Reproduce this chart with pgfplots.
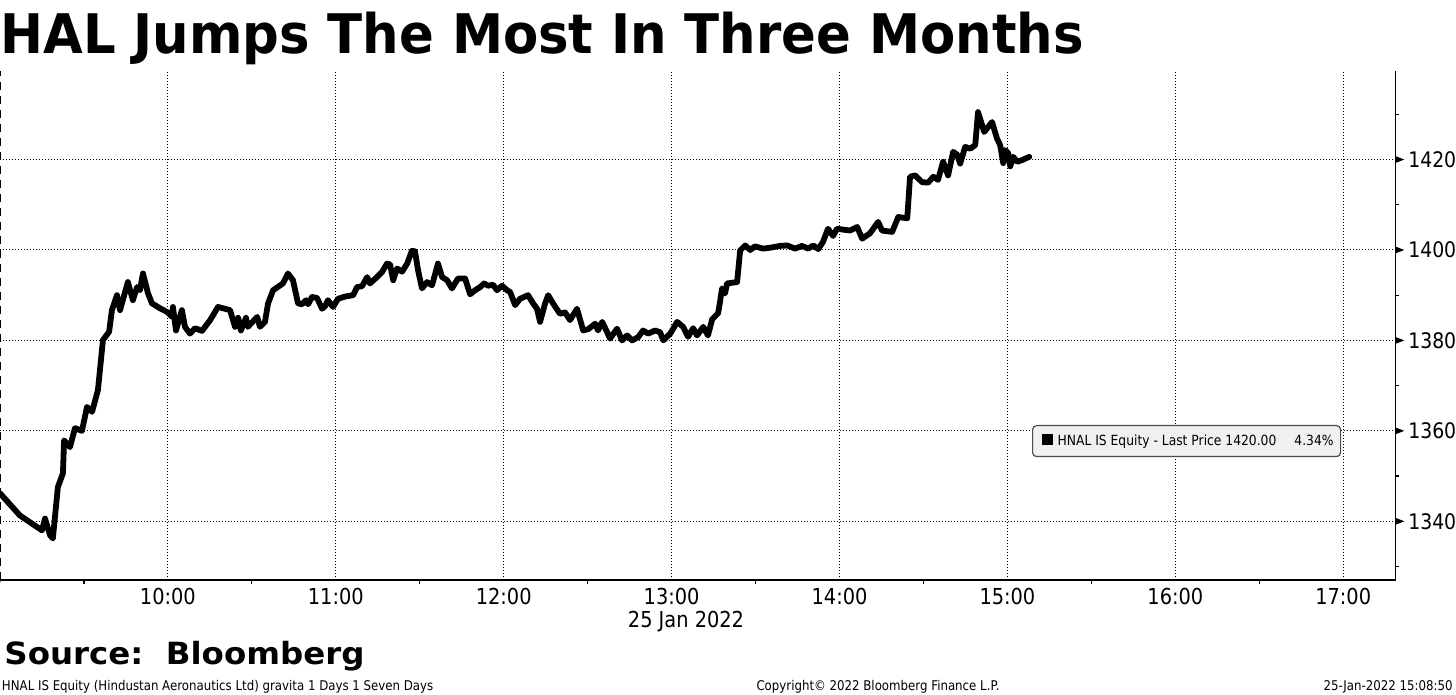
\documentclass[border=0pt]{standalone}
\usepackage{fontspec}
\setmainfont{DejaVu Sans}[FakeStretch=0.88]
\newfontfamily\headfont{DejaVu Sans}[FakeStretch=0.94]
\newfontfamily\srcfont{DejaVu Sans}[FakeStretch=1.06]
\usepackage{pgfplots}
\pgfplotsset{compat=1.18}

\begin{document}
\begin{tikzpicture}
\path[use as bounding box] (0,0) rectangle (728pt,347.5pt);
\begin{axis}[
  at={(0pt,57.5pt)}, anchor=south west, scale only axis,
  width=697.65pt, height=254.35pt,
  xmin=540, xmax=1038.6, ymin=1327, ymax=1439.5,
  axis line style={draw=none},
  clip mode=individual,
  xtick={600,660,...,1020},
  xticklabels={10:00,11:00,12:00,13:00,14:00,15:00,16:00,17:00},
  minor xtick={570,630,...,990},
  ytick={1340,1360,...,1420},
  minor ytick={1330,1350,...,1430},
  xtick pos=bottom, ytick pos=right, yticklabel pos=right,
  tick align=outside, major tick length=0pt, minor tick length=2pt,
  minor tick style={black, line width=0.6pt},
  grid=major,
  major grid style={black, line width=0.5pt, dash pattern=on 0.5pt off 1pt},
  xticklabel style={font=\fontsize{11}{12}\selectfont, anchor=north, inner sep=0pt, yshift=-4pt},
  yticklabel style={font=\fontsize{10.7}{12}\selectfont, anchor=west, inner sep=0pt, xshift=6.3pt},
  /pgf/number format/assume math mode=true,
  /pgf/number format/set thousands separator={},
]
\addplot[black, line width=2.9pt, line join=round, line cap=round] coordinates {
(540.0,1346.2) (547.1,1341.3) (555.0,1338.0) (556.1,1340.6) (557.9,1336.9)
(558.9,1336.2) (560.7,1347.6) (562.5,1350.6) (562.9,1357.9) (565.0,1356.4)
(566.8,1360.6) (569.3,1360.0) (571.1,1365.3) (572.9,1364.2) (575.0,1369.0)
(576.8,1380.1) (579.0,1381.9) (580.0,1386.7) (581.8,1390.0) (582.9,1386.7)
(585.7,1392.9) (587.5,1388.9) (589.0,1391.8) (590.0,1391.1) (591.1,1394.8)
(592.9,1390.4) (594.3,1388.2) (597.2,1387.1) (599.7,1386.3) (601.5,1385.2)
(601.8,1387.4) (602.9,1382.2) (605.0,1386.7) (606.1,1383.0) (607.9,1381.5)
(609.7,1382.7) (612.2,1382.1) (615.1,1384.5) (617.9,1387.4) (622.2,1386.7)
(624.0,1383.0) (625.1,1385.0) (626.1,1382.2) (627.9,1385.0) (628.6,1383.0)
(631.9,1385.2) (632.9,1383.0) (634.7,1384.1) (635.8,1388.2) (637.6,1391.1)
(641.1,1392.6) (642.9,1394.8) (644.7,1393.3) (646.5,1388.2) (647.9,1388.0)
(649.4,1388.9) (650.1,1388.0) (651.5,1389.6) (653.3,1389.4) (655.1,1387.0)
(656.2,1387.6) (657.2,1388.9) (659.0,1387.4) (660.8,1389.2) (663.3,1389.7)
(666.2,1390.0) (667.6,1391.8) (669.4,1392.0) (671.2,1394.0) (672.2,1392.6)
(674.7,1394.0) (676.5,1395.1) (678.3,1397.0) (679.4,1396.8) (680.5,1393.3)
(681.9,1395.9) (683.7,1395.2) (685.5,1397.0) (687.2,1399.8) (688.3,1399.7)
(689.4,1395.5) (690.8,1391.5) (692.6,1392.9) (694.4,1392.2) (696.5,1397.0)
(698.0,1394.0) (699.8,1393.3) (701.5,1391.5) (703.7,1393.7) (706.2,1393.7)
(708.0,1390.2) (709.8,1391.1) (711.6,1391.8) (713.0,1392.6) (714.4,1392.1)
(716.2,1392.3) (717.6,1391.1) (719.4,1392.1) (721.2,1391.1) (722.3,1390.7)
(724.1,1387.8) (725.8,1389.2) (728.7,1390.0) (730.5,1388.2) (731.9,1387.0)
(733.0,1384.1) (734.8,1388.2) (735.9,1390.0) (737.6,1388.2) (740.1,1385.9)
(741.9,1386.2) (743.7,1384.5) (746.2,1387.0) (748.4,1382.2) (750.2,1382.5)
(752.7,1383.7) (753.7,1382.2) (755.2,1384.1) (756.9,1381.9) (758.0,1380.4)
(760.5,1382.6) (762.3,1380.0) (764.1,1381.1) (765.9,1380.0) (768.0,1380.7)
(769.8,1382.2) (771.6,1381.5) (774.1,1382.2) (775.9,1381.8) (777.0,1380.0)
(779.5,1381.5) (782.0,1384.1) (784.1,1383.0) (785.9,1380.8) (787.7,1382.7)
(789.1,1381.1) (791.3,1383.0) (793.0,1381.1) (794.5,1384.7) (796.6,1386.0)
(797.3,1388.5) (798.0,1391.5) (799.1,1390.4) (799.8,1392.6) (803.4,1392.9)
(804.5,1399.9) (806.3,1401.0) (808.1,1400.0) (809.8,1400.8) (812.7,1400.3)
(815.2,1400.5) (818.8,1400.9) (821.3,1401.0) (824.1,1400.3) (826.6,1400.9)
(828.8,1400.3) (830.6,1401.0) (832.4,1400.2) (834.1,1401.8) (835.9,1404.7)
(837.7,1403.1) (839.1,1404.7) (841.3,1404.5) (843.8,1404.3) (846.3,1405.1)
(848.1,1402.5) (850.9,1403.7) (853.8,1406.2) (855.2,1404.3) (858.8,1404.0)
(861.0,1407.3) (864.2,1407.0) (865.2,1416.2) (867.0,1416.5) (869.5,1415.0)
(871.7,1414.9) (873.5,1416.2) (875.2,1415.5) (877.0,1419.5) (878.8,1416.5)
(880.6,1421.7) (882.0,1421.1) (883.1,1419.1) (884.9,1422.8) (886.7,1422.4)
(888.5,1423.2) (889.5,1430.5) (891.7,1426.1) (894.5,1428.3) (896.3,1424.6)
(897.4,1423.2) (898.5,1419.2) (899.2,1422.1) (900.3,1421.4) (901.0,1418.5)
(902.1,1420.6) (903.5,1419.5) (905.3,1419.9) (907.8,1420.6)
};
% axis frame: solid bottom and right, dashed left
\draw[black, line width=0.75pt] (rel axis cs:0,0) -- (rel axis cs:1,0) -- (rel axis cs:1,1);
\draw[black, line width=0.75pt, dash pattern=on 4pt off 3pt] (rel axis cs:0,0) -- (rel axis cs:0,1);
\draw[black, line width=0.75pt] (rel axis cs:0,0) -- ++(0,-26pt);
% pointer marks at the major y ticks
\pgfplotsinvokeforeach{1340,1360,1380,1400,1420}{
  \fill[black] ([yshift=1.75pt]axis cs:1038.6,#1) -- ([yshift=-1.75pt]axis cs:1038.6,#1)
    -- ([xshift=4.5pt]axis cs:1038.6,#1) -- cycle;
}
\end{axis}

% title and texts
\node[anchor=base west, inner sep=0pt] at (0pt,320.5pt)
  {\headfont\bfseries\fontsize{27.3}{30}\selectfont HAL Jumps The Most In Three Months};
\node[anchor=base west, inner sep=0pt] at (2pt,15pt)
  {\srcfont\bfseries\fontsize{15.3}{17}\selectfont Source:\ \ Bloomberg};
\node[anchor=base, inner sep=0pt] at (343pt,33.5pt)
  {\fontsize{11}{12}\selectfont 25 Jan 2022};
\node[anchor=base west, inner sep=0pt] at (0.8pt,2.2pt)
  {\fontsize{6.7}{7}\selectfont HNAL IS Equity (Hindustan Aeronautics Ltd) gravita 1 Days 1 Seven Days};
\node[anchor=base, inner sep=0pt] at (439pt,2.2pt)
  {\fontsize{6.7}{7}\selectfont Copyright\textcopyright{} 2022 Bloomberg Finance L.P.};
\node[anchor=base east, inner sep=0pt] at (726.5pt,2.2pt)
  {\fontsize{6.7}{7}\selectfont 25-Jan-2022 15:08:50};

% legend box
\node[anchor=north west, draw=black!70, fill=black!6, rounded corners=2pt,
      line width=0.6pt, minimum height=15.5pt, inner xsep=0pt, inner ysep=0pt]
  at (516pt,135pt)
  {\fontsize{7.0}{8}\selectfont\makebox[154pt][l]{\hspace{4.5pt}\rule{5.5pt}{5.5pt}\hspace{2.5pt}HNAL IS Equity - Last Price 1420.00\hfill 4.34\%\hspace{3.5pt}}};
\end{tikzpicture}
\end{document}
